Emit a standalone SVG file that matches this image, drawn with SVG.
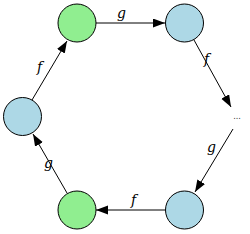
<svg xmlns="http://www.w3.org/2000/svg" width="250" height="234" viewBox="0 0 250 234">
<style>
.n{stroke:#000;stroke-width:1}
.g{fill:#90ee90}
.b{fill:#add8e6}
.e{stroke:#000;stroke-width:1;fill:none;marker-end:url(#ah)}
.l{font-family:"DejaVu Serif",serif;font-style:italic;font-size:14px;fill:#000}
</style>
<defs>
<marker id="ah" markerUnits="userSpaceOnUse" markerWidth="13" markerHeight="10" refX="12" refY="4.5" orient="auto">
<path d="M0,0 L12,4.5 L0,9 Z" fill="#000"/>
</marker>
</defs>
<g id="connectors">
<line class="e" x1="96" y1="23" x2="165" y2="23"/>
<line class="e" x1="194" y1="40" x2="231" y2="107"/>
<line class="e" x1="233" y1="129" x2="195" y2="192"/>
<line class="e" x1="165" y1="210" x2="96" y2="210"/>
<line class="e" x1="67" y1="193" x2="33" y2="134"/>
<line class="e" x1="32" y1="100" x2="67" y2="41"/>
<text class="l" x="117" y="18">g</text>
<text class="l" x="204" y="64">f</text>
<text class="l" x="207" y="152">g</text>
<text class="l" x="131" y="205">f</text>
<text class="l" x="44" y="168">g</text>
<text class="l" x="37" y="72">f</text>
</g>
<g id="n1"><circle class="n g" cx="77" cy="23" r="19"/></g>
<g id="n2"><circle class="n b" cx="184.5" cy="23" r="19"/></g>
<g id="n3"><text x="237" y="119" text-anchor="middle" font-family="DejaVu Sans,sans-serif" font-size="8" fill="#333">...</text></g>
<g id="n4"><circle class="n b" cx="184.5" cy="210" r="19"/></g>
<g id="n5"><circle class="n g" cx="77" cy="210" r="19"/></g>
<g id="n6"><circle class="n b" cx="22.5" cy="116.5" r="19"/></g>
</svg>
